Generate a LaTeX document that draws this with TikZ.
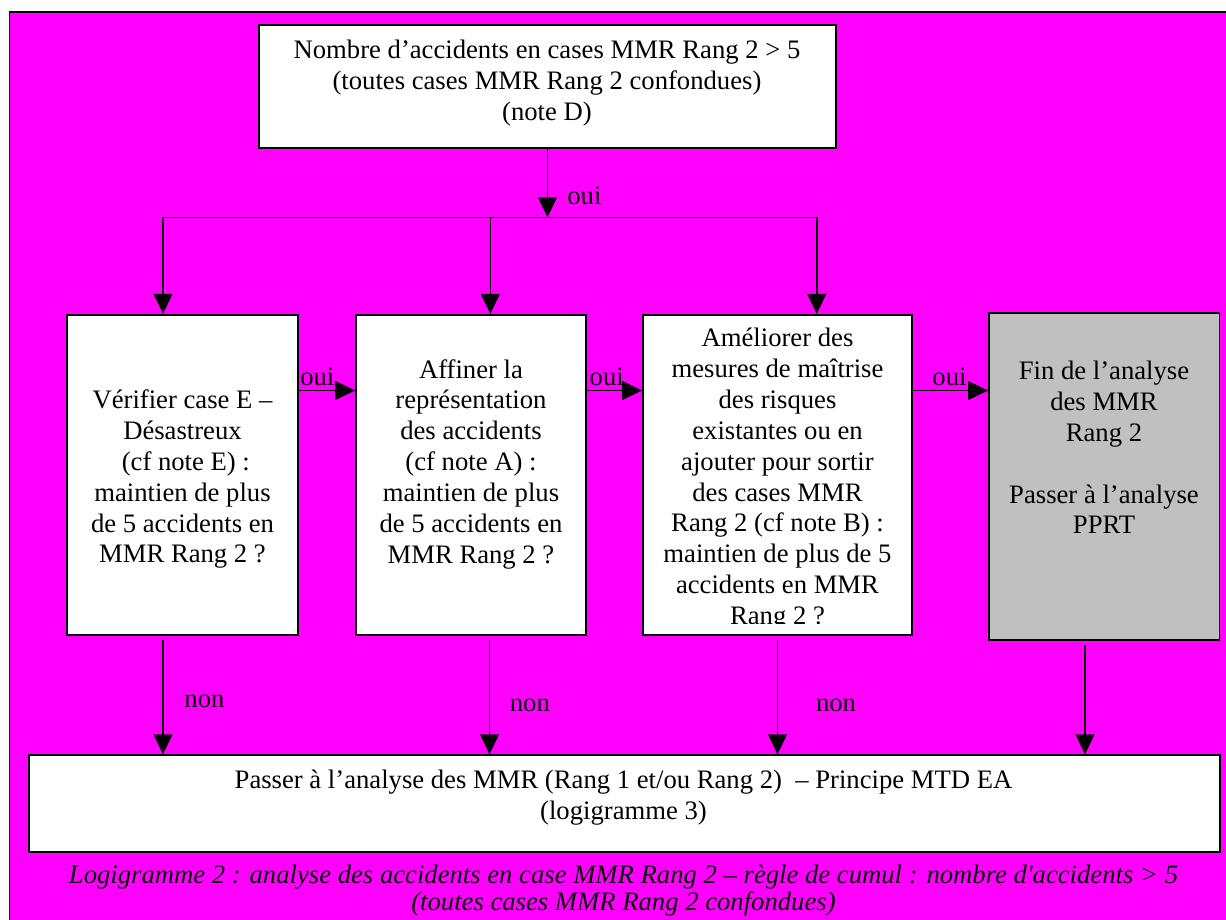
\documentclass[tikz,border=0pt]{standalone}
\usepackage{fontspec}
\setmainfont{Liberation Serif}
\usetikzlibrary{arrows.meta,positioning}
\definecolor{logimag}{RGB}{255,0,255}
\definecolor{logigray}{RGB}{192,192,192}
\newlength\pxu
\setlength\pxu{0.45pt}

\begin{document}
\begin{tikzpicture}[x=0.45pt, y=-0.45pt,
  box/.style={draw=black, line width=0.8pt, fill=white, inner sep=0pt},
  txt/.style={align=center, font=\fontsize{12}{13.9}\selectfont, inner sep=0pt},
  lbl/.style={font=\fontsize{12}{13.9}\selectfont, inner sep=0pt},
  arr/.style={-{Triangle[length=9pt,width=8.5pt]}, line width=0.7pt}]
  \useasboundingbox (0,0) rectangle (1226,920);
  \clip (0,0) rectangle (1226,920);
  \draw[fill=logimag, line width=0.7pt] (9.5,12) rectangle (1240,935);

  \node[box, minimum width=577\pxu, minimum height=122.7\pxu] (top) at (547.5,86.7) {};
  \node[txt] (ttop) at (547,83.3) {Nombre d’accidents en cases MMR Rang 2 > 5\\(toutes cases MMR Rang 2 confondues)\\(note D)};

  \node[box, minimum width=230.5\pxu, minimum height=320\pxu] (b1) at (182.5,474.7) {};
  \node[txt] (t1) at (182.5,479.2) {Vérifier case E –\\Désastreux\\\hspace*{0.25em}(cf note E) :\\maintien de plus\\de 5 accidents en\\MMR Rang 2 ?};

  \node[box, minimum width=230\pxu, minimum height=320\pxu] (b2) at (471,474.7) {};
  \node[txt] (t2) at (471,464.2) {Affiner la\\représentation\\des accidents\\(cf note A) :\\maintien de plus\\de 5 accidents en\\MMR Rang 2 ?};

  \node[box, minimum width=269\pxu, minimum height=320\pxu] (b3) at (777.5,474.7) {};
  \begin{scope}
    \clip (643,315) rectangle (912,623.3);
    \node[txt] (t3) at (777.5,479.2) {Améliorer des\\mesures de maîtrise\\des risques\\existantes ou en\\ajouter pour sortir\\des cases MMR\\Rang 2 (cf note B) :\\maintien de plus de 5\\accidents en MMR\\Rang 2 ?};
  \end{scope}

  \node[box, fill=logigray, minimum width=230.6\pxu, minimum height=326.7\pxu] (b4) at (1104.3,476.7) {};
  \node[txt] (t4) at (1104,447.5) {Fin de l’analyse\\des MMR\\Rang 2\\[13.9pt]Passer à l’analyse\\PPRT};

  \node[box, minimum width=1191\pxu, minimum height=96.7\pxu] (fin) at (624.5,803.6) {};
  \node[txt] (tfin) at (623.5,798) {Passer à l’analyse des MMR (Rang 1 et/ou Rang 2) \ – Principe MTD EA\\(logigramme 3)};

  \node[txt, font=\fontsize{12}{12.3}\selectfont\itshape] (cap) at (623.5,890.3)
       {Logigramme 2 : analyse des accidents en case MMR Rang 2 – règle de cumul : nombre d\textquotesingle accidents > 5\\(toutes cases MMR Rang 2 confondues)};

  \coordinate (split) at (547.5,217.3);
  \coordinate (jL) at (163,217.3);
  \coordinate (jC) at (490.3,217.3);
  \coordinate (jR) at (816.8,217.3);
  \coordinate (youi) at (0,390.5);

  \draw[arr] (top.south) -- node[lbl, pos=0.68, anchor=west, xshift=8.6pt] {oui} (split);
  \draw[line width=0.7pt] (jL) -- (jR);
  \foreach \j/\b in {jL/b1, jC/b2, jR/b3}
    \draw[arr] (\j) -- (\j |- \b.north);

  \draw[arr] (b1.east |- youi) -- node[lbl, pos=0, anchor=south west, xshift=0.4pt, yshift=2pt] {oui} (b2.west |- youi);
  \draw[arr] (b2.east |- youi) -- node[lbl, pos=0, anchor=south west, xshift=0.9pt, yshift=2pt] {oui} (b3.west |- youi);
  \draw[arr] (b3.east |- youi) -- node[lbl, pos=0.25, anchor=south west, yshift=2pt] {oui} (b4.west |- youi);

  \draw[arr, shorten <=2pt] (b1.south -| 163,0) -- node[lbl, pos=0.556, anchor=west, xshift=9.3pt] {non} (fin.north -| 163,0);
  \draw[arr, shorten <=2pt] (b2.south -| 489.5,0) -- node[lbl, pos=0.59, anchor=west, xshift=8.8pt] {non} (fin.north -| 489.5,0);
  \draw[arr, shorten <=2pt] (b3.south) -- node[lbl, pos=0.59, anchor=west, xshift=17pt] {non} (fin.north -| b3.south);
  \draw[arr, shorten <=2pt] (b4.south -| 1085,0) -- (fin.north -| 1085,0);
\end{tikzpicture}
\end{document}
